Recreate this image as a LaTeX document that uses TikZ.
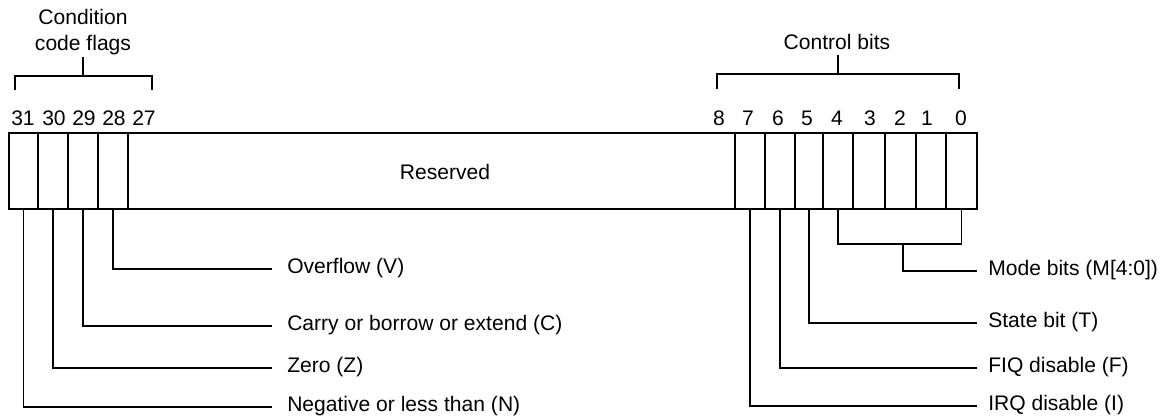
\documentclass[tikz,border=0pt]{standalone}
\usepackage{fontspec}
\setmainfont{Liberation Sans}
\usetikzlibrary{fit}
\begin{document}
\begin{tikzpicture}[x=0.75pt,y=-0.75pt,
  every node/.style={font=\fontsize{15.8}{19.5}\selectfont},
  cell/.style={draw, line width=1.5pt, inner sep=0pt},
  lead/.style={line width=1.1pt},
  bitno/.style={anchor=base, inner sep=0pt},
  lbl/.style={anchor=west, inner ysep=0pt, inner xsep=0pt, text height=0.716em, text depth=0pt},
  ttl/.style={align=center, inner sep=0pt}]
\useasboundingbox (0,0) rectangle (1160,418);
% register cells
\node[cell, fit={(9,133) (38,209)}] (b31) {};
\node[cell, fit={(38,133) (68,209)}] (b30) {};
\node[cell, fit={(68,133) (98,209)}] (b29) {};
\node[cell, fit={(98,133) (128,209)}] (b28) {};
\node[cell, fit={(128,133) (735,209)}] (res) {};
\node[cell, fit={(735,133) (765,209)}] (b7) {};
\node[cell, fit={(765,133) (795,209)}] (b6) {};
\node[cell, fit={(795,133) (823,209)}] (b5) {};
\node[cell, fit={(823,133) (853,209)}] (b4) {};
\node[cell, fit={(853,133) (885,209)}] (b3) {};
\node[cell, fit={(885,133) (916,209)}] (b2) {};
\node[cell, fit={(916,133) (946,209)}] (b1) {};
\node[cell, fit={(946,133) (977,209)}] (b0) {};
\node[inner sep=0pt] (restext) at (445,172) {Reserved};
% bit numbers
\node[bitno] (n31) at (23,125.5) {31};
\node[bitno] (n30) at (54,125.5) {30};
\node[bitno] (n29) at (84,125.5) {29};
\node[bitno] (n28) at (114,125.5) {28};
\node[bitno] (n27) at (144,125.5) {27};
\node[bitno] (n8) at (719,125.5) {8};
\node[bitno] (n7) at (748,125.5) {7};
\node[bitno] (n6) at (778,125.5) {6};
\node[bitno] (n5) at (807,125.5) {5};
\node[bitno] (n4) at (837,125.5) {4};
\node[bitno] (n3) at (870,125.5) {3};
\node[bitno] (n2) at (900,125.5) {2};
\node[bitno] (n1) at (927,125.5) {1};
\node[bitno] (n0) at (961,125.5) {0};
% top brackets
\node[ttl] (ccf) at (83,32) {Condition\\code flags};
\coordinate (ccl) at (15,90);
\coordinate (ccr) at (152,90);
\coordinate (ccs) at (83,57);
\draw[lead] (ccl) -- (15,76) -- (152,76) -- (ccr);
\draw[lead] (83,76) -- (ccs);
\node[ttl] (cb) at (837,42) {Control bits};
\coordinate (cbl) at (717,89);
\coordinate (cbr) at (959,89);
\coordinate (cbs) at (838,55);
\draw[lead] (cbl) -- (717,74) -- (959,74) -- (cbr);
\draw[lead] (838,74) -- (cbs);
% left labels
\node[lbl] (lV) at (287,269) {Overflow (V)};
\node[lbl] (lC) at (287,326) {Carry or borrow or extend (C)};
\node[lbl] (lZ) at (287,368) {Zero (Z)};
\node[lbl] (lN) at (287,407) {Negative or less than (N)};
\draw[lead] (b28.south) |- ([xshift=-11.25pt]lV.west);
\draw[lead] (b29.south) |- ([xshift=-11.25pt]lC.west);
\draw[lead] (b30.south) |- ([xshift=-11.25pt]lZ.west);
\draw[lead] (b31.south) |- ([xshift=-11.25pt]lN.west);
% right labels
\node[lbl] (lM) at (988,271) {Mode bits (M[4:0])};
\node[lbl] (lT) at (988,323) {State bit (T)};
\node[lbl] (lF) at (988,368) {FIQ disable (F)};
\node[lbl] (lI) at (988,406) {IRQ disable (I)};
\coordinate (mb) at (903,244);
\draw[lead] (b4.south) |- (mb) -| (b0.south);
\draw[lead] (mb) |- ([xshift=-8.25pt]lM.west);
\draw[lead] (b5.south) |- ([xshift=-8.25pt]lT.west);
\draw[lead] (b6.south) |- ([xshift=-8.25pt]lF.west);
\draw[lead] (b7.south) |- ([xshift=-8.25pt]lI.west);
\end{tikzpicture}
\end{document}
